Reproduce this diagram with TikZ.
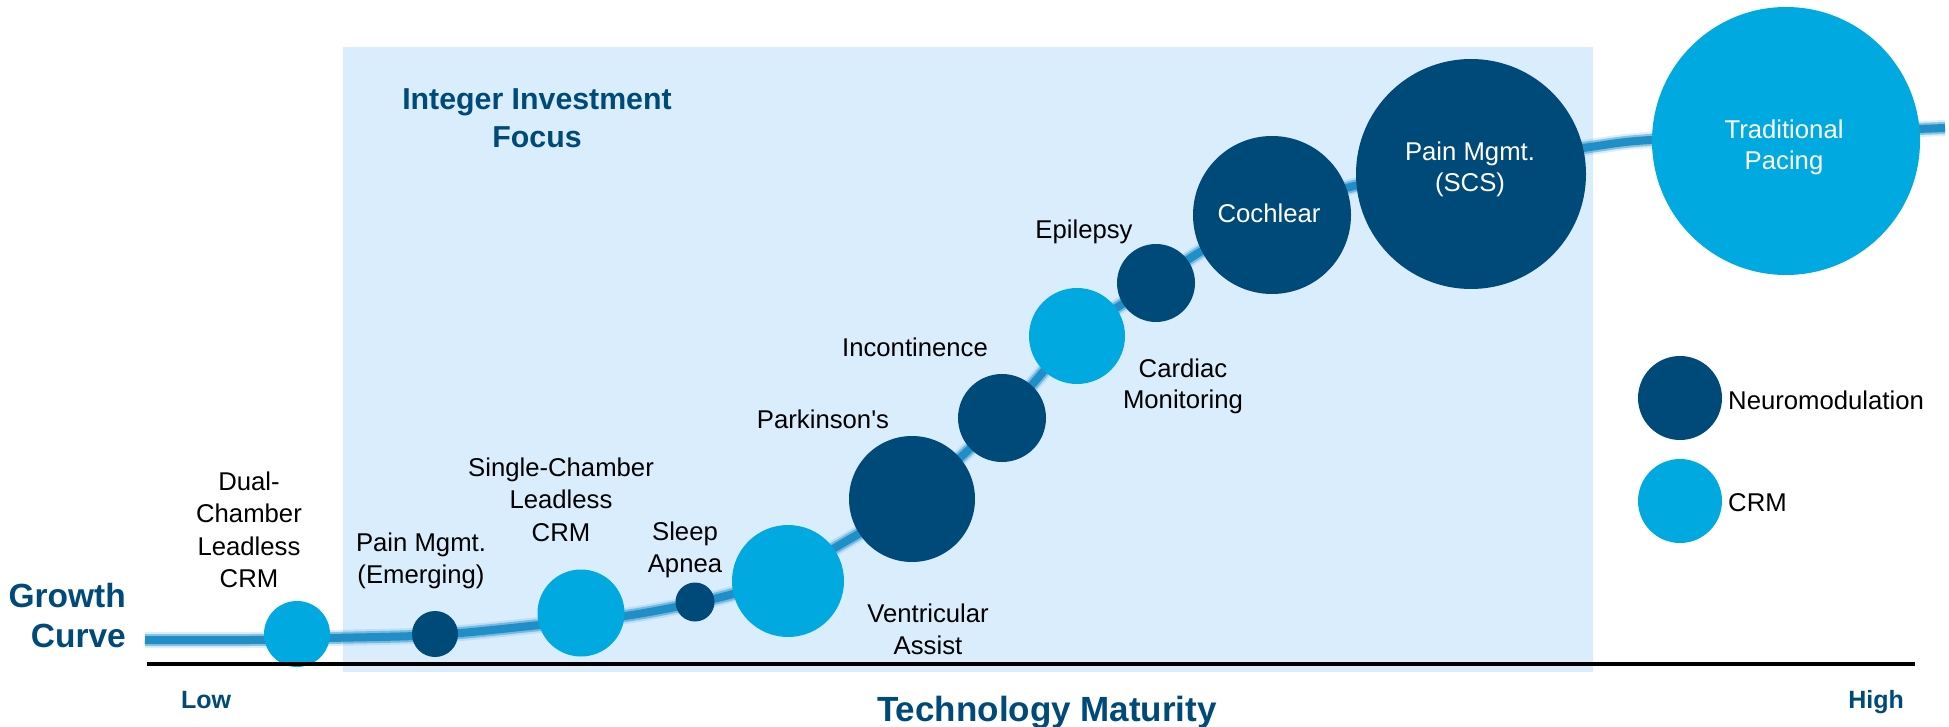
\documentclass[tikz,border=0pt]{standalone}
\usepackage{fontspec}
\setmainfont{Liberation Sans}[Ligatures=TeXOff]
\definecolor{navy}{RGB}{0,74,121}
\definecolor{sky}{RGB}{0,170,224}
\definecolor{focusbg}{RGB}{217,237,252}
\definecolor{curveblue}{RGB}{33,143,199}

\begin{document}
\begin{tikzpicture}[x=1pt,y=-1pt,
  bubble/.style={circle, inner sep=0pt, minimum size=#1, draw=none},
  neuro/.style={bubble=#1, fill=navy},
  crm/.style={bubble=#1, fill=sky},
  lbl/.style={anchor=north, inner sep=0pt, align=center, font=\fontsize{25.7}{32.5}\selectfont},
  wlbl/.style={lbl, text=white, font=\fontsize{25.7}{31}\selectfont},
  keytext/.style={anchor=base west, inner sep=0pt, font=\fontsize{25.7}{31}\selectfont},
  axislbl/.style={anchor=base, inner sep=0pt, text=navy, font=\bfseries\fontsize{25}{30}\selectfont},
  growth/.style={line width=#1, curveblue, line cap=butt, line join=round},
]
% canvas
\useasboundingbox (0,0) rectangle (1949,727);
\fill[white] (0,0) rectangle (1949,727);

% investment focus region
\fill[focusbg] (343,47) rectangle (1593,672);
\node[anchor=north, inner sep=0pt, align=center, text=navy,
      font=\bfseries\fontsize{30.3}{38}\selectfont] (focus) at (537,88)
      {Integer Investment\\Focus};

% growth curve (soft edged stroke)
\def\growthpath{plot[smooth, tension=0.55] coordinates {
  (145,640) (250,640) (330,638) (435,635) (540,625) (625,616) (695,603)
  (740,592) (788,575) (833,549) (912,499) (1002,418) (1077,336) (1156,283)
  (1200,252) (1272,214) (1350,187) (1471,165) (1590,147) (1650,140)
  (1786,134) (1945,128)}}
\draw[growth=16pt, opacity=0.15] \growthpath;
\draw[growth=12pt, opacity=0.45] \growthpath;
\draw[growth=8pt] \growthpath;

% technology bubbles
\node[crm=66pt]    (dual)   at (297,634) {};
\node[neuro=46pt]  (painE)  at (435,634) {};
\node[crm=87pt]    (single) at (581,613) {};
\node[neuro=39pt]  (sleep)  at (695,602) {};
\node[crm=112pt]   (vad)    at (788,581) {};
\node[neuro=126pt] (park)   at (912,499) {};
\node[neuro=88pt]  (incont) at (1002,418) {};
\node[crm=96pt]    (cardm)  at (1077,336) {};
\node[neuro=78pt]  (epil)   at (1156,283) {};
\node[neuro=158pt] (coch)   at (1272,215) {};
\node[neuro=230pt] (scs)    at (1471,174) {};
\node[crm=268pt]   (trad)   at (1786,141) {};

% labels beside the bubbles
\node[lbl] (dualL)   at (249,471.6) {Dual-\\Chamber\\Leadless\\CRM};
\node[lbl] (painEL)  at (421,532.6) {Pain Mgmt.\\(Emerging)};
\node[lbl] (singleL) at (561,457.6) {Single-Chamber\\Leadless\\CRM};
\node[lbl] (sleepL)  at (685,521.6) {Sleep\\Apnea};
\node[lbl] (parkL)   at (823,409.6) {Parkinson's};
\node[lbl] (vadL)    at (928,603.6) {Ventricular\\Assist};
\node[lbl] (incontL) at (915,337.6) {Incontinence};
\node[lbl, font=\fontsize{25.7}{31}\selectfont] (cardmL) at (1183,358.6) {Cardiac\\Monitoring};
\node[lbl] (epilL)   at (1084,219.6) {Epilepsy};

% labels inside the bubbles
\node[wlbl] (cochL) at (1269,203.6) {Cochlear};
\node[wlbl] (scsL)  at (1470,141.6) {Pain Mgmt.\\(SCS)};
\node[wlbl, font=\fontsize{25.7}{31}\selectfont] (tradL) at (1784,119.6) {Traditional\\Pacing};

% key
\node[neuro=84pt] (keyN) at (1680,398) {};
\node[crm=84pt]   (keyC) at (1680,501) {};
\node[keytext] (keyNL) at (1728,409) {Neuromodulation};
\node[keytext] (keyCL) at (1728,511) {CRM};

% axis
\coordinate (axL) at (147,664);
\coordinate (axR) at (1915,664);
\draw[line width=4.5pt] (axL) -- (axR);
\node[axislbl] (low)  at (206,708) {Low};
\node[axislbl] (high) at (1876,708) {High};
\node[axislbl, font=\bfseries\fontsize{35}{40}\selectfont] (axisT) at (1047,721) {Technology Maturity};
\node[anchor=north east, inner sep=0pt, align=right, text=navy,
      font=\bfseries\fontsize{33.5}{40}\selectfont] (growthL) at (126,583)
      {Growth\\Curve};
\end{tikzpicture}
\end{document}
